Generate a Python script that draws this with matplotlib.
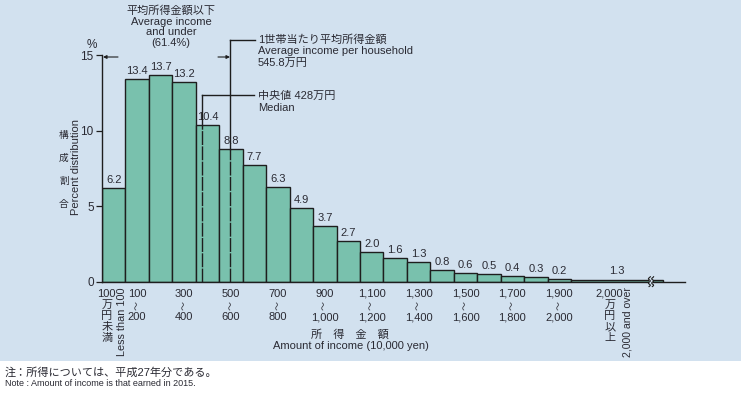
import matplotlib
matplotlib.use('Agg')
import matplotlib.pyplot as plt
import numpy as np
from matplotlib.patches import Rectangle

plt.rcParams['font.family'] = ['Liberation Sans', 'Noto Sans CJK JP']

# ---------------- data ----------------
bin_starts = [0, 100, 200, 300, 400, 500, 600, 700, 800, 900,
              1000, 1100, 1200, 1300, 1400, 1500, 1600, 1700, 1800, 1900]
bin_width = 100
shares = [6.2, 13.4, 13.7, 13.2, 10.4, 8.8, 7.7, 6.3, 4.9, 3.7,
          2.7, 2.0, 1.6, 1.3, 0.8, 0.6, 0.5, 0.4, 0.3, 0.2]
top_start = 2000
top_share = 1.3
top_draw_width = 392     # open-ended class, drawn wide and flat
top_draw_height = 0.12
tick_low = ['100', '300', '500', '700', '900', '1,100', '1,300', '1,500', '1,700', '1,900']
tick_high = ['200', '400', '600', '800', '1,000', '1,200', '1,400', '1,600', '1,800', '2,000']
tick_bins = [100, 300, 500, 700, 900, 1100, 1300, 1500, 1700, 1900]
yticks = [0, 5, 10, 15]
mean_income = 545.8
median_income = 428
below_mean_pct = 61.4
break_at = 2341

BG = '#d2e1ef'
GREEN = '#79c1ad'
EDGE = '#1e1e1e'
TXT = '#2a2a33'

W, H = 741, 393
fig = plt.figure(figsize=(W / 100, H / 100), dpi=100)
fig.patch.set_facecolor('white')
fig.add_artist(Rectangle((0, 1 - 361 / H), 1, 361 / H, transform=fig.transFigure,
                         facecolor=BG, edgecolor='none', zorder=0))

X0, X1, Y0, Y1 = 102, 685, 282, 55
ax = fig.add_axes([X0 / W, 1 - Y0 / H, (X1 - X0) / W, (Y0 - Y1) / H])
XMAX = 2486
ax.set_xlim(0, XMAX)
ax.set_ylim(0, 15)
ax.patch.set_alpha(0)
for s in ['top', 'right']:
    ax.spines[s].set_visible(False)
ax.spines['left'].set_linewidth(1.0)
ax.spines['bottom'].set_linewidth(1.0)
ax.spines['left'].set_color(EDGE)
ax.spines['bottom'].set_color(EDGE)
ax.set_xticks([])
ax.set_yticks(yticks)
ax.set_yticklabels([str(v) for v in yticks], fontsize=8.5, color=TXT)
ax.tick_params(axis='y', direction='out', length=4, width=0.9, pad=2, color=EDGE)


def px2x(px):
    return (px - X0) / (X1 - X0) * XMAX


def px2y(py):
    return (Y0 - py) / (Y0 - Y1) * 15


def ft(x, y, s, **kw):
    kw.setdefault('color', TXT)
    return fig.text(x / W, 1 - y / H, s, **kw)


# bars
ax.bar(bin_starts, shares, width=bin_width, align='edge', color=GREEN,
       edgecolor=EDGE, linewidth=1.0, zorder=2)
ax.bar([top_start], [top_draw_height], width=top_draw_width, align='edge',
       color=GREEN, edgecolor=EDGE, linewidth=1.0, zorder=2)

for x, h in zip(bin_starts, shares):
    ax.text(x + bin_width / 2, h + 0.2, f'{h:.1f}', ha='center', va='bottom',
            fontsize=8, color=TXT)
ax.text(top_start + top_draw_width / 2, top_draw_height + 0.25, f'{top_share:.1f}',
        ha='center', va='bottom', fontsize=8, color=TXT)

# break mark
ax.add_patch(Rectangle((break_at - 10, -0.25), 20, 0.55, facecolor=BG,
                       edgecolor='none', zorder=3, clip_on=False))
t = np.linspace(-0.3, 0.35, 30)
for dx in (-7, 7):
    ax.plot(break_at + dx + 4 * np.sin(t * 22), t, color=EDGE, lw=0.8,
            zorder=4, clip_on=False)

# mean and median lines
def bar_top(v):
    i = int(v // bin_width)
    return shares[i]


for val, ytop_px, xend_px in [(mean_income, 40, 255), (median_income, 95, 254)]:
    top = bar_top(val)
    ax.plot([val, val], [top, px2y(ytop_px)], color=EDGE, lw=1.0, zorder=5, clip_on=False)
    ax.plot([val, val], [0, top], color=EDGE, lw=1.0, zorder=5,
            linestyle=(0, (10, 1.0)))
    ax.plot([val, px2x(xend_px)], [px2y(ytop_px)] * 2, color=EDGE, lw=1.0,
            zorder=5, clip_on=False)

# arrows for "average income and under"
ax.annotate('', xy=(px2x(103), px2y(57)), xytext=(px2x(118), px2y(57)),
            arrowprops=dict(arrowstyle='-|>', color=EDGE, lw=0.8,
                            mutation_scale=5, shrinkA=0, shrinkB=0),
            annotation_clip=False)
ax.annotate('', xy=(mean_income, px2y(57)), xytext=(px2x(218), px2y(57)),
            arrowprops=dict(arrowstyle='-|>', color=EDGE, lw=0.8,
                            mutation_scale=5, shrinkA=0, shrinkB=0),
            annotation_clip=False)

# annotation texts
ft(171, 10, '平均所得金額以下', ha='center', va='center', fontsize=8)
ft(171, 22, 'Average income', ha='center', va='center', fontsize=8)
ft(171, 32, 'and under', ha='center', va='center', fontsize=8)
ft(171, 43, f'({below_mean_pct}%)', ha='center', va='center', fontsize=8)

ft(258, 39, '1世帯当たり平均所得金額', ha='left', va='center', fontsize=8)
ft(258, 51, 'Average income per household', ha='left', va='center', fontsize=8)
ft(258, 63, f'{mean_income}万円', ha='left', va='center', fontsize=8)

ft(258, 96, f'中央値 {median_income}万円', ha='left', va='center', fontsize=8)
ft(258, 108, 'Median', ha='left', va='center', fontsize=8)

# y-axis labels
ft(92, 45, '%', ha='center', va='center', fontsize=8.5)
for i, ch in enumerate('構成割合'):
    ft(64, 135 + i * 23, ch, ha='center', va='center', fontsize=7)
ft(76, 167, 'Percent distribution', ha='center', va='center', fontsize=8, rotation=90)

# x tick labels
for b, lo, hi in zip(tick_bins, tick_low, tick_high):
    xc = X0 + (b + bin_width / 2) / XMAX * (X1 - X0)
    ft(xc, 294, lo, ha='center', va='center', fontsize=8)
    ft(xc, 305, '〜', ha='center', va='center', fontsize=6.5, rotation=90,
       family=['Noto Sans CJK JP'])
    ft(xc, 317, hi, ha='center', va='center', fontsize=8)

ft(106, 294, '100', ha='center', va='center', fontsize=8)
for i, ch in enumerate('万円未満'):
    ft(107, 305 + i * 11, ch, ha='center', va='center', fontsize=8)
ft(122, 287, 'Less than 100', ha='center', va='top', fontsize=7.8, rotation=90)

ft(609, 294, '2,000', ha='center', va='center', fontsize=8)
for i, ch in enumerate('万円以上'):
    ft(610, 305 + i * 11, ch, ha='center', va='center', fontsize=8)
ft(627, 287, '2,000 and over', ha='center', va='top', fontsize=7.6, rotation=90)

# x-axis title
ft(350, 334, '所　得　金　額', ha='center', va='center', fontsize=8)
ft(351, 346, 'Amount of income (10,000 yen)', ha='center', va='center', fontsize=8)

# notes
ft(5, 372, '注：所得については、平成27年分である。', ha='left', va='center', fontsize=8)
ft(5, 383, 'Note : Amount of income is that earned in 2015.', ha='left', va='center', fontsize=6.5)

fig.savefig('out.png', dpi=100, facecolor=fig.get_facecolor())
